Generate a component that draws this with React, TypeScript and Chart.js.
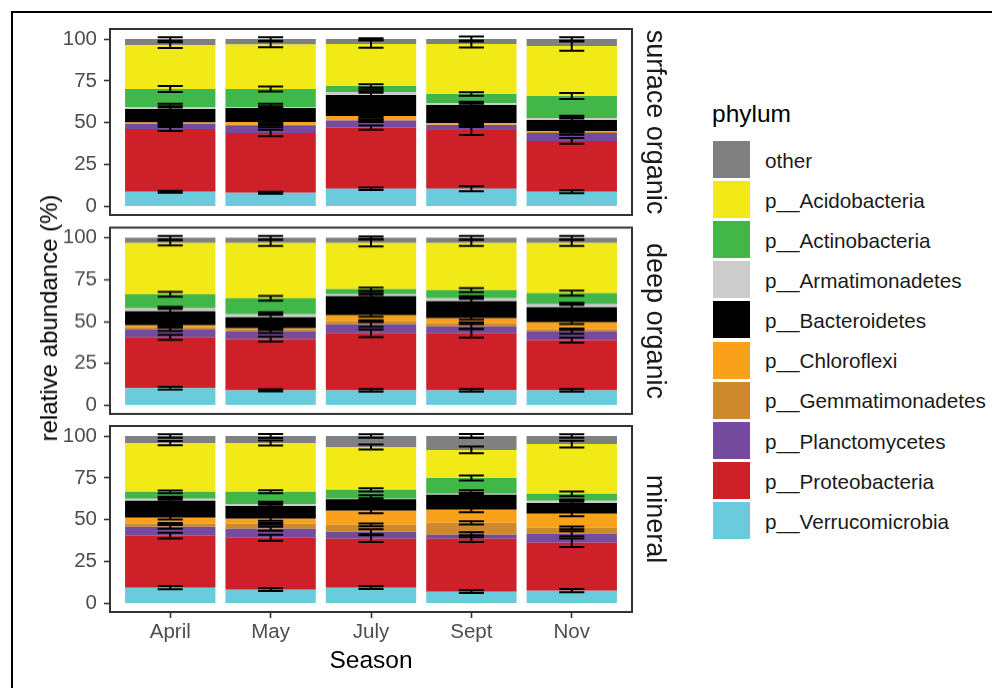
import React, { useEffect, useRef } from "react";
import { Chart, registerables } from "chart.js";

Chart.register(...registerables);

// ---------- data ----------
const seasons = ["April", "May", "July", "Sept", "Nov"];
const facetLabels = ["surface organic", "deep organic", "mineral"];
// stacking order, bottom -> top
const phyla = [
  "p__Verrucomicrobia",
  "p__Proteobacteria",
  "p__Planctomycetes",
  "p__Gemmatimonadetes",
  "p__Chloroflexi",
  "p__Bacteroidetes",
  "p__Armatimonadetes",
  "p__Actinobacteria",
  "p__Acidobacteria",
  "other",
];
const phylumColors = [
  "#6acbdc",
  "#ce2029",
  "#744b9d",
  "#cc8a2c",
  "#f9a11b",
  "#000000",
  "#cccccc",
  "#41b649",
  "#f2ea17",
  "#808080",
];
const yTickValues = [0, 25, 50, 75, 100];

// rows follow `phyla`, columns follow `seasons` (relative abundance, %)
const surfaceMeans = [
  [8.8, 8.2, 10.6, 10.6, 8.8],
  [37.5, 35.7, 36.5, 35.1, 30.4],
  [3.2, 4.6, 4.2, 3.0, 4.7],
  [0.3, 0.3, 0.3, 0.2, 0.6],
  [0.4, 1.7, 2.5, 0.8, 0.6],
  [8.1, 8.4, 12.5, 10.9, 6.6],
  [1.2, 0.6, 1.8, 1.2, 1.2],
  [10.7, 10.7, 3.6, 5.4, 13.1],
  [26.2, 26.6, 25.0, 29.8, 29.8],
  [3.6, 3.2, 3.0, 3.0, 4.2],
];
const surfaceSd = [
  [0.6, 0.6, 0.7, 1.5, 0.9],
  [1.2, 2.0, 1.3, 3.0, 1.7],
  [1.0, 1.2, 0.8, 1.2, 1.0],
  [0.3, 0.3, 0.3, 0.3, 0.3],
  [0.5, 0.8, 0.6, 0.5, 0.4],
  [3.0, 2.5, 3.5, 2.0, 2.5],
  [0.4, 0.4, 0.4, 0.4, 0.4],
  [1.8, 1.5, 1.0, 1.0, 1.8],
  [1.7, 1.7, 2.2, 2.1, 2.8],
  [1.0, 1.0, 0.5, 1.5, 1.0],
];

const deepMeans = [
  [10.3, 9.0, 9.0, 9.0, 9.0],
  [30.3, 30.5, 34.0, 34.0, 29.9],
  [4.8, 4.7, 5.4, 4.2, 5.3],
  [1.2, 1.2, 1.8, 1.8, 1.2],
  [1.2, 0.6, 3.6, 3.0, 4.2],
  [8.4, 6.6, 11.4, 10.2, 9.0],
  [1.8, 1.8, 1.1, 1.8, 1.8],
  [8.3, 9.5, 3.0, 4.7, 6.5],
  [30.5, 32.9, 27.5, 28.1, 29.9],
  [3.2, 3.2, 3.2, 3.2, 3.2],
];
const deepSd = [
  [0.8, 0.6, 0.8, 0.8, 0.8],
  [1.5, 1.5, 2.2, 2.5, 1.5],
  [1.0, 1.0, 1.5, 1.5, 1.5],
  [0.3, 0.4, 0.5, 0.5, 0.4],
  [0.5, 0.5, 1.0, 1.0, 1.0],
  [2.5, 3.0, 3.0, 3.0, 2.5],
  [0.5, 0.5, 0.4, 0.5, 0.5],
  [1.4, 1.4, 1.0, 1.2, 1.5],
  [1.5, 1.8, 2.0, 1.8, 1.8],
  [1.0, 1.0, 0.8, 1.0, 1.0],
];

const mineralMeans = [
  [9.5, 8.3, 9.5, 7.1, 7.7],
  [31.0, 31.0, 29.2, 31.6, 28.6],
  [5.3, 5.3, 4.2, 2.4, 5.4],
  [1.8, 3.0, 4.1, 7.1, 3.5],
  [3.6, 3.0, 8.4, 7.8, 8.4],
  [10.1, 7.7, 6.8, 8.9, 6.5],
  [1.2, 1.2, 0.3, 0.6, 1.2],
  [4.2, 7.2, 5.4, 9.5, 4.2],
  [29.1, 29.1, 25.6, 16.7, 29.7],
  [4.2, 4.2, 6.5, 8.3, 4.8],
];
const mineralSd = [
  [1.0, 0.8, 0.8, 0.8, 1.0],
  [1.7, 1.8, 2.0, 2.0, 2.5],
  [1.2, 1.2, 1.5, 1.5, 1.5],
  [0.5, 0.6, 0.8, 1.0, 0.8],
  [1.0, 1.2, 1.5, 1.5, 1.5],
  [2.5, 2.5, 2.5, 2.8, 2.0],
  [0.5, 0.5, 0.4, 0.5, 0.5],
  [0.8, 0.9, 1.0, 1.5, 1.4],
  [1.3, 1.5, 1.5, 2.0, 2.0],
  [1.0, 1.2, 1.0, 1.2, 1.0],
];

const facetMeans = [surfaceMeans, deepMeans, mineralMeans];
const facetSds = [surfaceSd, deepSd, mineralSd];

// ---------- layout / style ----------
const FONT = "'Liberation Sans', Arial, Helvetica, sans-serif";
const CANVAS_W = 660;
const PANEL_LEFT = 110;
const PANEL_RIGHT = 632;
const PANEL_H = 186;
const PANEL_TOPS = [29, 227.5, 426];
const CANVAS_TOPS = [9, 207, 406];
const X_AXIS_H = 76;
const AXIS_GREY = "#333333";
const TEXT_GREY = "#4d4d4d";

function makeErrorBarPlugin(means: number[][], sds: number[][]) {
  return {
    id: "errorBars",
    afterDatasetsDraw(chart: any) {
      const { ctx } = chart;
      const xs = chart.scales.x;
      const ys = chart.scales.y;
      ctx.save();
      ctx.strokeStyle = "#000000";
      ctx.lineWidth = 2;
      for (let s = 0; s < seasons.length; s++) {
        let cum = 0;
        const xc = xs.getPixelForValue(s);
        const half = xs.getPixelForValue(s + 0.125) - xc;
        for (let p = 0; p < means.length; p++) {
          cum += means[p][s];
          const sd = sds[p][s];
          const yTop = ys.getPixelForValue(cum + sd);
          const yBot = ys.getPixelForValue(cum - sd);
          ctx.beginPath();
          ctx.moveTo(xc - half, yTop);
          ctx.lineTo(xc + half, yTop);
          ctx.moveTo(xc, yTop);
          ctx.lineTo(xc, yBot);
          ctx.moveTo(xc - half, yBot);
          ctx.lineTo(xc + half, yBot);
          ctx.stroke();
        }
      }
      ctx.restore();
    },
  };
}

const panelBorderPlugin = {
  id: "panelBorder",
  afterDraw(chart: any) {
    const { ctx, chartArea } = chart;
    ctx.save();
    ctx.strokeStyle = AXIS_GREY;
    ctx.lineWidth = 2;
    ctx.strokeRect(
      chartArea.left,
      chartArea.top,
      chartArea.right - chartArea.left,
      chartArea.bottom - chartArea.top
    );
    ctx.restore();
  },
};

function FacetChart({ index }: { index: number }) {
  const ref = useRef<HTMLCanvasElement | null>(null);
  const showX = index === facetLabels.length - 1;
  const canvasTop = CANVAS_TOPS[index];
  const padTop = PANEL_TOPS[index] - canvasTop;
  const canvasH = showX ? 688 - canvasTop : padTop + PANEL_H + 20;
  const padBottom = showX ? 0 : canvasH - padTop - PANEL_H;

  useEffect(() => {
    if (!ref.current) return;
    const means = facetMeans[index];
    const sds = facetSds[index];
    const tickGrid = {
      display: true,
      drawOnChartArea: false,
      drawTicks: true,
      tickLength: 6,
      tickWidth: 1.6,
      tickColor: AXIS_GREY,
      offset: false,
    };
    const chart = new Chart(ref.current, {
      type: "bar",
      data: {
        datasets: phyla.map((name, p) => ({
          label: name,
          data: seasons.map((_, s) => ({ x: s, y: means[p][s] })),
          backgroundColor: phylumColors[p],
          borderWidth: 0,
          categoryPercentage: 1,
          barPercentage: 0.9,
        })),
      },
      options: {
        animation: false,
        responsive: false,
        devicePixelRatio: 1,
        layout: {
          padding: {
            left: 0,
            right: CANVAS_W - PANEL_RIGHT,
            top: padTop,
            bottom: padBottom,
          },
        },
        plugins: {
          legend: { display: false },
          tooltip: { enabled: false },
        },
        scales: {
          x: {
            type: "linear",
            min: -0.6,
            max: 4.6,
            offset: false,
            stacked: true,
            display: showX,
            grid: tickGrid,
            border: { display: false },
            afterBuildTicks: (axis: any) => {
              axis.ticks = seasons.map((_, i) => ({ value: i }));
            },
            afterFit: (axis: any) => {
              axis.height = showX ? X_AXIS_H : 0;
            },
            ticks: {
              autoSkip: false,
              maxRotation: 0,
              padding: 2,
              color: TEXT_GREY,
              font: { family: FONT, size: 20.5 },
              callback: (_v: any, i: number) => seasons[i],
            },
            title: {
              display: showX,
              text: "Season",
              color: "#000000",
              font: { family: FONT, size: 24.5 },
              padding: { top: 0, bottom: 12 },
            },
          },
          y: {
            type: "linear",
            min: -5.05,
            max: 106,
            stacked: true,
            grid: tickGrid,
            border: { display: false },
            afterBuildTicks: (axis: any) => {
              axis.ticks = yTickValues.map((v) => ({ value: v }));
            },
            afterFit: (axis: any) => {
              axis.width = PANEL_LEFT;
            },
            ticks: {
              autoSkip: false,
              padding: 7,
              color: TEXT_GREY,
              font: { family: FONT, size: 20.5 },
              callback: (v: any) => String(v),
            },
          },
        },
      } as any,
      plugins: [makeErrorBarPlugin(means, sds), panelBorderPlugin],
    });
    return () => chart.destroy();
  }, [index]);

  return (
    <canvas
      ref={ref}
      width={CANVAS_W}
      height={canvasH}
      style={{
        position: "absolute",
        left: 0,
        top: canvasTop,
        width: CANVAS_W,
        height: canvasH,
      }}
    />
  );
}

export default function App() {
  const legendOrder = phyla.map((_, i) => phyla.length - 1 - i);
  return (
    <div
      style={{
        position: "fixed",
        left: 0,
        top: 0,
        width: 992,
        height: 688,
        background: "#ffffff",
        overflow: "hidden",
        fontFamily: FONT,
      }}
    >
      <div
        style={{
          position: "absolute",
          left: 11,
          top: 11,
          width: 2000,
          height: 2000,
          borderLeft: "2px solid #000",
          borderTop: "2px solid #000",
        }}
      />
      {facetLabels.map((_, i) => (
        <FacetChart key={i} index={i} />
      ))}
      {facetLabels.map((label, i) => (
        <div
          key={label}
          style={{
            position: "absolute",
            left: 655,
            top: PANEL_TOPS[i] + PANEL_H / 2,
            transform: "translate(-50%, -50%) rotate(90deg)",
            fontSize: 27,
            lineHeight: 1,
            whiteSpace: "nowrap",
            color: "#1a1a1a",
          }}
        >
          {label}
        </div>
      ))}
      <div
        style={{
          position: "absolute",
          left: 48.5,
          top: 318,
          transform: "translate(-50%, -50%) rotate(-90deg)",
          fontSize: 24,
          lineHeight: 1,
          whiteSpace: "nowrap",
          color: "#000",
        }}
      >
        relative abundance (%)
      </div>
      <div
        style={{
          position: "absolute",
          left: 712,
          top: 102.3,
          fontSize: 24.5,
          lineHeight: 1,
          whiteSpace: "nowrap",
          color: "#000",
        }}
      >
        phylum
      </div>
      {legendOrder.map((p, k) => (
        <React.Fragment key={phyla[p]}>
          <div
            style={{
              position: "absolute",
              left: 713,
              top: 141 + 40.1 * k,
              width: 37,
              height: 37,
              background: phylumColors[p],
            }}
          />
          <div
            style={{
              position: "absolute",
              left: 765,
              top: 141.8 + 40.1 * k,
              height: 37,
              lineHeight: "37px",
              fontSize: 20.7,
              whiteSpace: "nowrap",
              color: "#1a1a1a",
            }}
          >
            {phyla[p]}
          </div>
        </React.Fragment>
      ))}
    </div>
  );
}
